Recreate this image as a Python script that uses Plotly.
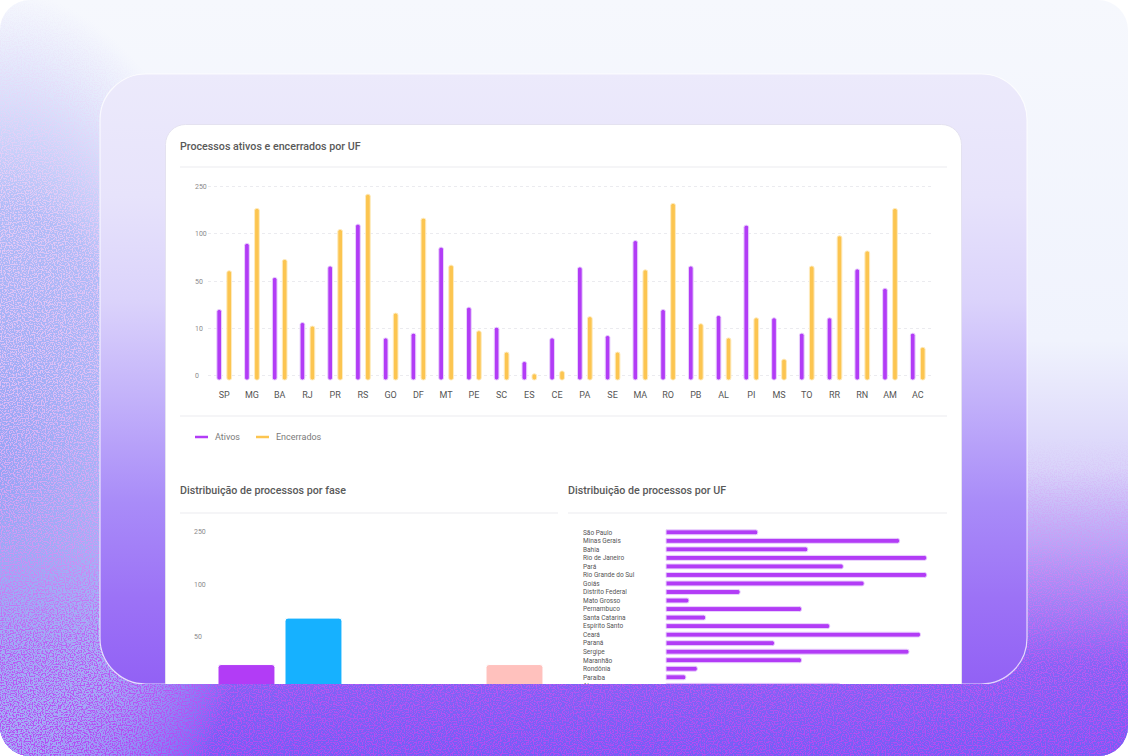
import base64
import numpy as np
import plotly.graph_objects as go

W, H = 1128, 756

# ---------------- data ----------------
ufs = ["SP", "MG", "BA", "RJ", "PR", "RS", "GO", "DF", "MT", "PE", "SC", "ES", "CE",
       "PA", "SE", "MA", "RO", "PB", "AL", "PI", "MS", "TO", "RR", "RN", "AM", "AC"]
ativos = [26, 90, 54, 15, 66, 131, 8, 9, 86, 28, 11, 3, 8,
          65, 8.5, 93, 26, 66, 21, 128, 19, 9, 19, 63, 44, 9]
encerrados = [61, 181, 73, 12, 114, 226, 23, 150, 67, 9.5, 5, 0.4, 1,
              20, 5, 62, 197, 14, 8, 19, 3.5, 66, 98, 82, 181, 6]

escala_valores = [0, 10, 50, 100, 250]
escala_rotulos = ["0", "10", "50", "100", "250"]

fases = ["Conhecimento", "Recursal", "Execução", "Cumprimento", "Arquivamento"]
fases_valores = [29, 68, 6, 4, 29]
fases_cores = ["#b23cf6", "#16b1ff", "#56ca00", "#ffb400", "#ffc1bd"]

uf_nomes = ["São Paulo", "Minas Gerais", "Bahia", "Rio de Janeiro", "Pará",
            "Rio Grande do Sul", "Goiás", "Distrito Federal", "Mato Grosso",
            "Pernambuco", "Santa Catarina", "Espírito Santo", "Ceará", "Paraná",
            "Sergipe", "Maranhão", "Rondônia", "Paraíba", "Alagoas"]
uf_totais = [88, 224, 136, 250, 170, 250, 190, 71, 22, 130, 38, 157, 244, 104,
             233, 130, 30, 19, 167]

titulo1 = "Processos ativos e encerrados por UF"
titulo2 = "Distribuição de processos por fase"
titulo3 = "Distribuição de processos por UF"
serie_nomes = ["Ativos", "Encerrados"]

ROXO = "#b23cf6"
AMARELO = "#fcc550"
FONT = "Roboto"


def escala(v):
    return np.interp(v, escala_valores, np.arange(len(escala_valores)))


def fx(px):
    return px / W


def fy(py):
    return 1 - py / H


# ---------------- decorative background (svg) ----------------
def svg_bg(band_only):
    defs = """
<defs>
 <clipPath id='outer'><rect x='0' y='0' width='1128' height='756' rx='30' ry='30'/></clipPath>
 <clipPath id='band'><rect x='0' y='684' width='1128' height='72'/></clipPath>
 <linearGradient id='base' x1='0' y1='0' x2='0' y2='756' gradientUnits='userSpaceOnUse'>
  <stop offset='0' stop-color='#f6f8fd'/>
  <stop offset='0.45' stop-color='#f0f3fd'/>
  <stop offset='0.62' stop-color='#d9d3fa'/>
  <stop offset='0.76' stop-color='#ac92f6'/>
  <stop offset='0.88' stop-color='#8464f5'/>
  <stop offset='1' stop-color='#735ff6'/>
 </linearGradient>
 <radialGradient id='blue' gradientUnits='userSpaceOnUse' cx='0' cy='0' r='1' gradientTransform='matrix(260 0 0 480 0 470)'>
  <stop offset='0' stop-color='#95a3f5' stop-opacity='1'/>
  <stop offset='0.55' stop-color='#a9b6f7' stop-opacity='0.9'/>
  <stop offset='1' stop-color='#c8d0fa' stop-opacity='0'/>
 </radialGradient>
 <linearGradient id='spkc' x1='0' y1='0' x2='0' y2='756' gradientUnits='userSpaceOnUse'>
  <stop offset='0' stop-color='#eed8f8'/>
  <stop offset='0.5' stop-color='#e4c0f5'/>
  <stop offset='0.72' stop-color='#cf98f4'/>
  <stop offset='0.86' stop-color='#b95ef3'/>
  <stop offset='1' stop-color='#b24af3'/>
 </linearGradient>
 <radialGradient id='mL' gradientUnits='userSpaceOnUse' cx='0' cy='0' r='1' gradientTransform='matrix(280 0 0 620 0 610)'>
  <stop offset='0' stop-color='#ffffff' stop-opacity='1'/>
  <stop offset='0.7' stop-color='#ffffff' stop-opacity='0.85'/>
  <stop offset='1' stop-color='#ffffff' stop-opacity='0'/>
 </radialGradient>
 <linearGradient id='mB' x1='0' y1='0' x2='0' y2='756' gradientUnits='userSpaceOnUse'>
  <stop offset='0' stop-color='#ffffff' stop-opacity='0'/>
  <stop offset='0.58' stop-color='#ffffff' stop-opacity='0'/>
  <stop offset='0.76' stop-color='#ffffff' stop-opacity='0.9'/>
  <stop offset='1' stop-color='#ffffff' stop-opacity='1'/>
 </linearGradient>
 <mask id='nm' maskUnits='userSpaceOnUse' x='0' y='0' width='1128' height='756'>
  <rect width='1128' height='756' fill='url(#mL)'/>
  <rect width='1128' height='756' fill='url(#mB)'/>
 </mask>
 <filter id='spk' filterUnits='userSpaceOnUse' x='0' y='0' width='1128' height='756' color-interpolation-filters='sRGB'>
  <feTurbulence type='fractalNoise' baseFrequency='0.75' numOctaves='1' seed='5' result='t'/>
  <feColorMatrix in='t' type='matrix' values='0 0 0 0 0  0 0 0 0 0  0 0 0 0 0  10 0 0 0 -4.8' result='a'/>
  <feComposite in='SourceGraphic' in2='a' operator='in'/>
 </filter>
 <linearGradient id='frame' x1='0' y1='74' x2='0' y2='684' gradientUnits='userSpaceOnUse'>
  <stop offset='0' stop-color='#eceafb'/>
  <stop offset='0.2' stop-color='#e7e3fb'/>
  <stop offset='0.37' stop-color='#dbd3fb'/>
  <stop offset='0.53' stop-color='#c3b2fa'/>
  <stop offset='0.7' stop-color='#a98cf8'/>
  <stop offset='0.86' stop-color='#9c72f6'/>
  <stop offset='1' stop-color='#9261f5'/>
 </linearGradient>
</defs>
"""
    layers = """
  <rect width='1128' height='756' fill='url(#base)'/>
  <rect width='1128' height='756' fill='url(#blue)'/>
  <rect width='1128' height='756' fill='url(#spkc)' filter='url(#spk)' mask='url(#nm)'/>
"""
    if band_only:
        body = "<g clip-path='url(#outer)'><g clip-path='url(#band)'>" + layers + "</g></g>"
    else:
        body = ("<g clip-path='url(#outer)'>" + layers +
                "<rect x='100' y='74' width='927' height='610' rx='46' ry='46' fill='url(#frame)' "
                "stroke='#ffffff' stroke-opacity='0.75' stroke-width='1.2'/>"
                "<rect x='165.5' y='124.5' width='796' height='640' rx='20' ry='20' fill='#ffffff' "
                "stroke='#e4e2f0' stroke-width='1'/>"
                "</g>")
    svg = ("<svg xmlns='http://www.w3.org/2000/svg' width='1128' height='756' "
           "viewBox='0 0 1128 756'>" + defs + body + "</svg>")
    return "data:image/svg+xml;base64," + base64.b64encode(svg.encode("utf-8")).decode("ascii")


# ---------------- figure ----------------
fig = go.Figure()

fundo = -0.09  # bars start slightly below the zero line
fig.add_trace(go.Bar(
    x=ufs, y=escala(ativos) - fundo, base=fundo, name=serie_nomes[0],
    width=0.17, offset=-0.265, customdata=ativos, hovertemplate="%{x}: %{customdata}<extra>Ativos</extra>",
    marker=dict(color=ROXO, line=dict(color="#e9d3fc", width=1), cornerradius=2),
    xaxis="x", yaxis="y"))
fig.add_trace(go.Bar(
    x=ufs, y=escala(encerrados) - fundo, base=fundo, name=serie_nomes[1],
    width=0.17, offset=0.095, customdata=encerrados, hovertemplate="%{x}: %{customdata}<extra>Encerrados</extra>",
    marker=dict(color=AMARELO, line=dict(color="#fdebc0", width=1), cornerradius=2),
    xaxis="x", yaxis="y"))

fig.add_trace(go.Bar(
    x=fases, y=escala(fases_valores), width=0.85, customdata=fases_valores,
    hovertemplate="%{x}: %{customdata}<extra></extra>",
    marker=dict(color=fases_cores, line=dict(color="#ffffff", width=1), cornerradius=3),
    xaxis="x2", yaxis="y2"))

fig.add_trace(go.Bar(
    x=uf_totais, y=uf_nomes, orientation="h", width=0.58,
    marker=dict(color=ROXO, line=dict(color="#e9d3fc", width=1), cornerradius=2),
    xaxis="x3", yaxis="y3"))

tick_small = dict(size=7, color="#8a8a8a", family=FONT)
y1_range = [-0.12, 4.15]
y1_domain = [fy(381.4), fy(179.6)]

fig.update_layout(
    width=W, height=H, margin=dict(l=0, r=0, t=0, b=0),
    paper_bgcolor="#ffffff", plot_bgcolor="rgba(0,0,0,0)",
    showlegend=False, barmode="overlay",
    font=dict(family=FONT, color="#555555"),
    xaxis=dict(domain=[fx(208), fx(931.6)], range=[-0.584, 25.5], anchor="y",
               showgrid=False, zeroline=False, showline=False,
               ticks="outside", ticklen=5, tickcolor="rgba(0,0,0,0)",
               tickfont=dict(size=9, color="#555555", family=FONT), fixedrange=True),
    yaxis=dict(domain=y1_domain, range=y1_range, anchor="x",
               tickvals=list(range(len(escala_valores))), ticktext=escala_rotulos,
               showticklabels=False, ticks="", zeroline=False, showline=False,
               showgrid=True, gridcolor="#ebebef", griddash="dot", gridwidth=1),
    yaxis4=dict(overlaying="y", anchor="free", position=fx(191), side="left",
                range=y1_range, tickvals=list(range(len(escala_valores))),
                ticktext=escala_rotulos, ticklabelposition="inside", ticks="",
                showgrid=False, zeroline=False, showline=False, tickfont=tick_small),
    xaxis2=dict(domain=[fx(191), fx(548)], range=[-0.828, 4.5], anchor="y2",
                showgrid=False, zeroline=False, showline=False, showticklabels=False),
    yaxis2=dict(domain=[fy(748.3), fy(521.5)], range=[-0.12, 4.2], anchor="x2",
                tickvals=list(range(len(escala_valores))), ticktext=escala_rotulos,
                ticklabelposition="inside", ticks="", zeroline=False, showline=False,
                showgrid=False, tickfont=tick_small),
    xaxis3=dict(domain=[fx(580), fx(928.8)], range=[-82.5, 252], anchor="y3",
                visible=False),
    yaxis3=dict(domain=[0, fy(528.04)], range=[26.23, -0.5], anchor="x3", type="category",
                ticklabelposition="inside", ticks="", zeroline=False, showline=False,
                showgrid=False, tickfont=dict(size=6.5, color="#555555", family=FONT)),
    images=[
        dict(source=svg_bg(False), xref="paper", yref="paper", x=0, y=1, sizex=1, sizey=1,
             xanchor="left", yanchor="top", sizing="stretch", layer="below"),
        dict(source=svg_bg(True), xref="paper", yref="paper", x=0, y=1, sizex=1, sizey=1,
             xanchor="left", yanchor="top", sizing="stretch", layer="above"),
    ],
)

# invisible trace so the label-only overlay axis is drawn
fig.add_trace(go.Scatter(x=[ufs[0]], y=[0], mode="markers", marker=dict(opacity=0),
                         hoverinfo="skip", xaxis="x", yaxis="y4"))

# titles
for txt, x, y in [(titulo1, 178, 146), (titulo2, 178, 491), (titulo3, 566, 491)]:
    fig.add_annotation(text=txt, x=fx(x), y=fy(y), xref="paper", yref="paper",
                       xanchor="left", yanchor="middle", showarrow=False,
                       font=dict(size=10.7, color="#595959", family=FONT, weight=500))

# separators
for x0, x1, y in [(180, 947, 167), (180, 947, 416), (180, 558, 513), (568, 947, 513)]:
    fig.add_shape(type="line", xref="paper", yref="paper", x0=fx(x0), x1=fx(x1),
                  y0=fy(y), y1=fy(y), line=dict(color="#ebebef", width=1))

# custom legend (line swatches)
for nome, cor, sx, tx in [(serie_nomes[0], ROXO, 195, 213), (serie_nomes[1], AMARELO, 256, 274)]:
    fig.add_shape(type="line", xref="paper", yref="paper", x0=fx(sx), x1=fx(sx + 13),
                  y0=fy(437), y1=fy(437), line=dict(color=cor, width=2.5))
    fig.add_annotation(text=nome, x=fx(tx), y=fy(437), xref="paper", yref="paper",
                       xanchor="left", yanchor="middle", showarrow=False,
                       font=dict(size=9, color="#7a7a7a", family=FONT))

fig.write_html("out.html", config={"displayModeBar": False},
               post_script="document.body.style.margin='0';document.body.style.overflow='hidden';")
